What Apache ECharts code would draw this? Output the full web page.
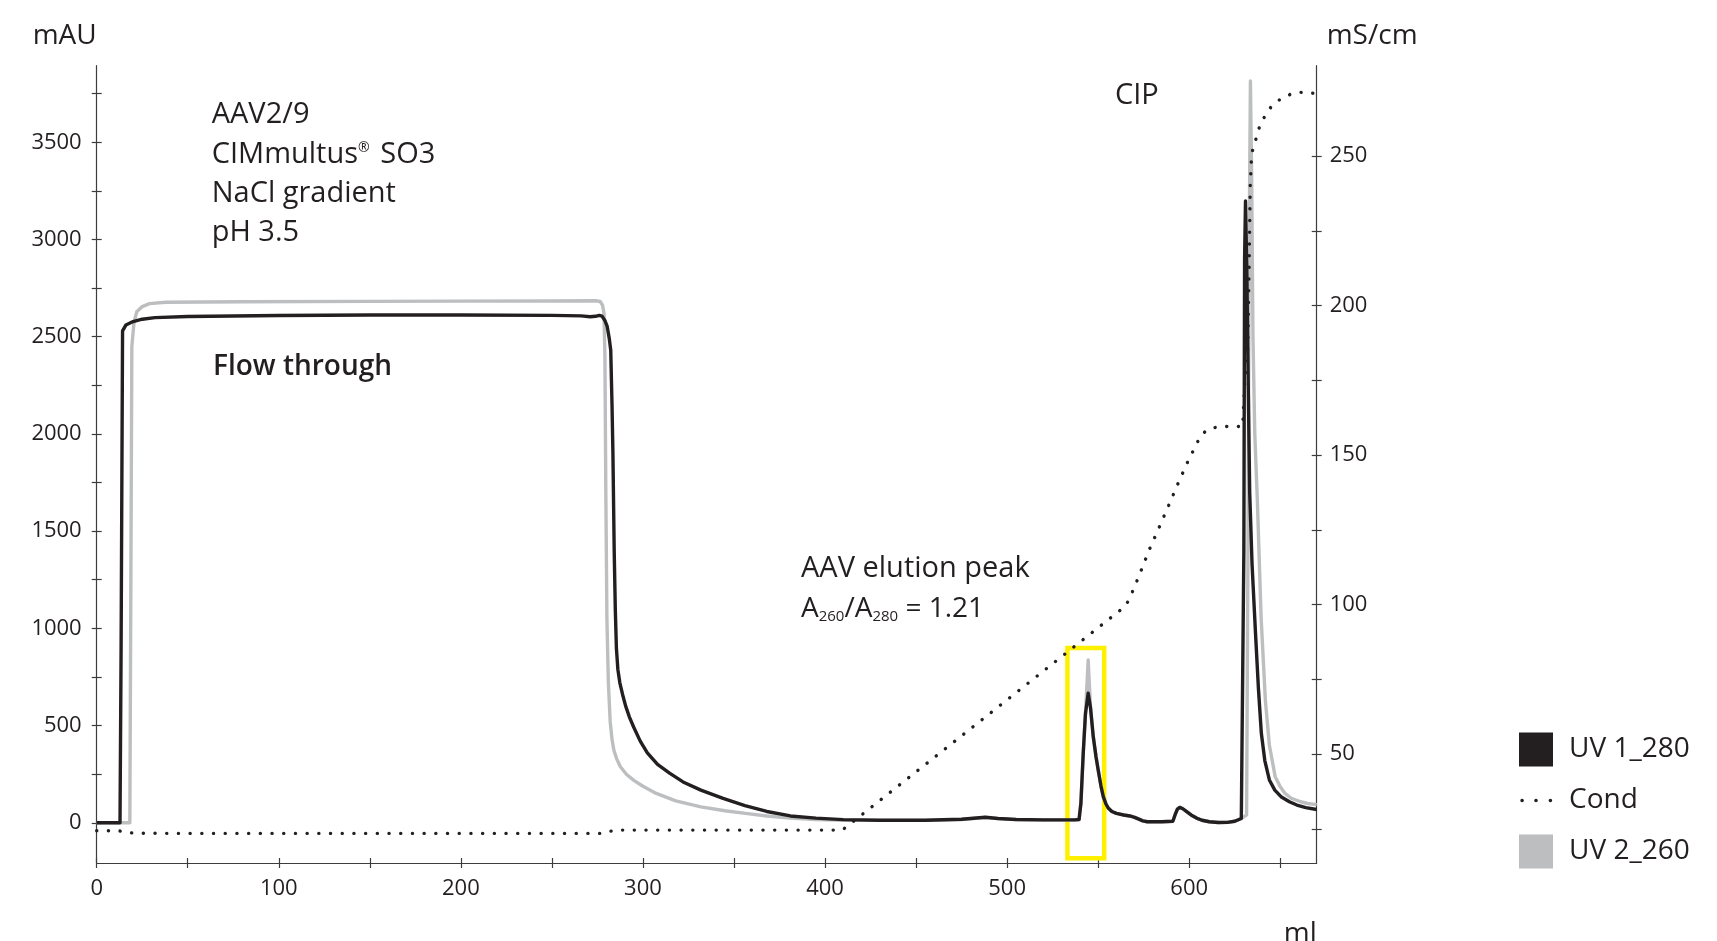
<!DOCTYPE html>
<html>
<head>
<meta charset="utf-8">
<script src="https://cdn.jsdelivr.net/npm/echarts@6/dist/echarts.min.js"></script>
<style>
  html, body { margin: 0; padding: 0; background: #ffffff; }
  #chart { width: 1717px; height: 941px; }
</style>
</head>
<body>
<div id="chart"></div>
<script>
// ---------- data (ml, value) ----------
const uv280 = [[0,0],[12.8,0],[13.4,900],[14.2,2530],[16,2560],[20,2578],[25,2590],[32,2598],[50,2604],[100,2609],[150,2612],[200,2612],[250,2610],[266,2607],[271,2603],[274,2605],[276,2610],[277.5,2606],[279,2585],[280.3,2555],[281.5,2490],[282.3,2430],[283,2150],[283.5,1900],[284.2,1400],[284.8,1100],[285.4,900],[286.2,790],[287.3,720],[288.8,660],[290.5,600],[292.5,545],[295,490],[298.5,420],[302.4,360],[308,300],[314.6,255],[322,210],[331.8,168],[344,125],[356,88],[368,58],[381,35],[395,24],[410,16],[430,13],[455,13],[475,18],[488,28],[495,22],[505,17],[520,15],[537,15],[539.5,17],[540.5,100],[541.8,360],[543,560],[544.5,666],[545.8,590],[547.3,442],[548.8,340],[550,271],[551.5,190],[552.8,134],[554.2,98],[555.5,76],[557.5,58],[560,48],[564,40],[567.4,35],[570,28],[572,20],[574.5,10],[577,5],[585,5],[591,8],[592.2,40],[593.5,70],[594.8,79],[596.5,72],[598.6,57],[601,40],[604,24],[607,13],[611,5],[616,1],[621,2],[625,8],[628.6,22],[629.6,30],[630.0,1400],[630.4,2900],[630.9,3198],[631.6,2850],[632.4,2250],[633.2,1700],[634.5,1330],[636.4,974],[638,690],[639.6,460],[641.5,320],[644,220],[647,168],[650.4,134],[655,108],[659.1,91],[664,78],[670,68]];

const uv260 = [[0,0],[18.2,0],[18.7,1100],[19.3,2450],[20.5,2575],[22,2628],[25,2655],[29,2670],[38,2677],[80,2680],[150,2682],[200,2683],[250,2684],[274,2685],[276.5,2681],[277.8,2662],[278.6,2620],[279.1,2400],[279.6,1700],[280.2,1050],[281,720],[282,520],[283,430],[284,374],[285.5,330],[287.6,288],[291,248],[295,218],[300,188],[307.3,151],[318,113],[331.8,82],[345,62],[356.3,48],[368,35],[380.8,24],[395,16],[412,12],[430,12],[455,12],[475,17],[488,27],[495,21],[505,16],[520,14],[537,14],[539.5,16],[540.5,100],[541.8,360],[543,560],[544.1,760],[544.5,837],[544.9,760],[545.8,590],[547.3,442],[548.8,340],[550,271],[551.5,190],[552.8,134],[554.2,98],[555.5,76],[557.5,58],[560,48],[564,40],[567.4,35],[570,28],[572,20],[574.5,10],[577,5],[585,5],[591,8],[592.2,40],[593.5,70],[594.8,79],[596.5,72],[598.6,57],[601,40],[604,24],[607,13],[611,5],[616,1],[621,2],[625,8],[628.6,22],[630,30],[631.5,40],[632.3,1500],[633,3100],[633.6,3815],[634.3,3300],[635,2500],[636,2000],[637.4,1660],[639.5,1050],[641.8,631],[644,400],[647.2,237],[650,185],[652.6,151],[656,126],[661.2,108],[665,99],[670,93]];

const cond = [[0,24.4],[12,24.4],[15,24.0],[20,23.6],[40,23.5],[150,23.5],[278,23.5],[282,24.2],[285,24.6],[350,24.6],[409,24.6],[411,25.3],[565,99.5],[567.8,102.8],[573,110.5],[578,118.3],[583.4,125.7],[588.8,133.3],[594.2,141],[599.8,148.6],[602.9,152.3],[605.7,155.8],[608.9,158],[612,159],[615.4,159.3],[623,159.7],[629.3,159.5],[630,168],[630.6,176],[632,181],[632.8,210],[633.5,240],[634.2,250],[635,252.5],[636.8,256],[638.5,259.6],[641.3,263.1],[645,266.5],[650,269],[655.8,270.7],[661.2,271.3],[666,271.2],[670,270.8]];

// highlighted elution peak window: [ml from, ml to, mAU low, mAU high]
const peakBox = [533.1, 553.3, -183, 899];

// ---------- axes ----------
const xTicks = [0,50,100,150,200,250,300,350,400,450,500,550,600,650];
const xLabels = [0,100,200,300,400,500,600];
const leftTicks = [0,250,500,750,1000,1250,1500,1750,2000,2250,2500,2750,3000,3250,3500,3750];
const leftLabels = [0,500,1000,1500,2000,2500,3000,3500];
const rightTicks = [25,50,75,100,125,150,175,200,225,250];
const rightLabels = [50,100,150,200,250];
const xRange = [0, 670];
const leftRange = [-207, 3894];
const rightRange = [13.6, 280.2];

const FONT = '"Open Sans", "Noto Sans", sans-serif';
const TXT = '#231F20';
const AX = '#3d3d3d';
const BLACK = '#231F20';
const GREY = '#BCBEC0';

const condIcon = 'path://M0,0 M34,34 M1.3,17 a1.8,1.8 0 1,0 3.6,0 a1.8,1.8 0 1,0 -3.6,0 M15.2,17 a1.8,1.8 0 1,0 3.6,0 a1.8,1.8 0 1,0 -3.6,0 M29.6,17 a1.8,1.8 0 1,0 3.6,0 a1.8,1.8 0 1,0 -3.6,0 Z';

const plain = function (v) { return String(v); };

function tickAxisBase(inside, values) {
  return {
    show: true, inside: inside, length: 5, customValues: values,
    lineStyle: { color: AX, width: 1.2 }
  };
}

const chart = echarts.init(document.getElementById('chart'), null, { renderer: 'canvas' });

const option = {
  animation: false,
  backgroundColor: '#ffffff',
  grid: { left: 96.7, right: 400.3, top: 65.7, bottom: 78, outerBoundsMode: 'none', containLabel: false },
  xAxis: [
    {
      type: 'value', min: xRange[0], max: xRange[1], position: 'bottom',
      name: 'ml', nameLocation: 'end', nameGap: 0,
      nameTextStyle: { fontFamily: FONT, fontSize: 28, color: TXT, align: 'right', verticalAlign: 'top', padding: [57, 0, 0, 0] },
      axisLine: { show: true, onZero: false, lineStyle: { color: AX, width: 1.2 } },
      axisTick: tickAxisBase(false, xTicks),
      axisLabel: { show: true, customValues: xLabels, formatter: plain, margin: 15, fontFamily: FONT, fontSize: 22, color: TXT },
      splitLine: { show: false }
    },
    {
      type: 'value', min: xRange[0], max: xRange[1], position: 'bottom',
      axisLine: { show: false, onZero: false },
      axisTick: tickAxisBase(true, xTicks),
      axisLabel: { show: false },
      splitLine: { show: false }
    }
  ],
  yAxis: [
    {
      type: 'value', min: leftRange[0], max: leftRange[1], position: 'left',
      name: 'mAU', nameLocation: 'end', nameGap: 16,
      nameTextStyle: { fontFamily: FONT, fontSize: 28, color: TXT, align: 'right' },
      axisLine: { show: true, onZero: false, lineStyle: { color: AX, width: 1.2 } },
      axisTick: tickAxisBase(false, leftTicks),
      axisLabel: { show: true, customValues: leftLabels, formatter: plain, margin: 15, fontFamily: FONT, fontSize: 22, color: TXT },
      splitLine: { show: false }
    },
    {
      type: 'value', min: rightRange[0], max: rightRange[1], position: 'right',
      name: 'mS/cm', nameLocation: 'end', nameGap: 16,
      nameTextStyle: { fontFamily: FONT, fontSize: 28, color: TXT, align: 'left', padding: [0, 0, 0, 10] },
      axisLine: { show: true, onZero: false, lineStyle: { color: AX, width: 1.2 } },
      axisTick: tickAxisBase(false, rightTicks),
      axisLabel: { show: true, customValues: rightLabels, formatter: plain, margin: 13, fontFamily: FONT, fontSize: 22, color: TXT },
      splitLine: { show: false }
    },
    {
      type: 'value', min: leftRange[0], max: leftRange[1], position: 'left',
      axisLine: { show: false, onZero: false },
      axisTick: tickAxisBase(true, leftTicks),
      axisLabel: { show: false },
      splitLine: { show: false }
    },
    {
      type: 'value', min: rightRange[0], max: rightRange[1], position: 'right',
      axisLine: { show: false, onZero: false },
      axisTick: tickAxisBase(true, rightTicks),
      axisLabel: { show: false },
      splitLine: { show: false }
    }
  ],
  legend: {
    orient: 'vertical', left: 1519, top: 732.5, padding: 0,
    itemWidth: 34, itemHeight: 34, itemGap: 17,
    selectedMode: false,
    itemStyle: { borderWidth: 0 },
    textStyle: { fontFamily: FONT, fontSize: 28, color: TXT, padding: [0, 0, 0, 11] },
    data: [
      { name: 'UV 1_280', icon: 'rect' },
      { name: 'Cond', icon: condIcon },
      { name: 'UV 2_260', icon: 'rect' }
    ]
  },
  series: [
    {
      name: 'UV 2_260', type: 'line', xAxisIndex: 0, yAxisIndex: 0, data: uv260,
      showSymbol: false, symbol: 'none', z: 2, color: GREY,
      lineStyle: { color: GREY, width: 3.4, join: 'round' }
    },
    {
      name: 'UV 1_280', type: 'line', xAxisIndex: 0, yAxisIndex: 0, data: uv280,
      showSymbol: false, symbol: 'none', z: 3, color: BLACK,
      lineStyle: { color: BLACK, width: 3.4, join: 'round' }
    },
    {
      name: 'Cond', type: 'line', xAxisIndex: 0, yAxisIndex: 1, data: cond,
      showSymbol: false, symbol: 'none', z: 4, color: BLACK,
      lineStyle: { color: BLACK, width: 3.4, type: [0.1, 11.6], cap: 'round' }
    },
    {
      name: 'peak window', type: 'line', xAxisIndex: 0, yAxisIndex: 0, data: [],
      z: 6, silent: true,
      markArea: {
        silent: true,
        itemStyle: { color: 'rgba(0,0,0,0)', borderColor: '#FFF000', borderWidth: 4.5 },
        data: [[{ xAxis: peakBox[0], yAxis: peakBox[3] }, { xAxis: peakBox[1], yAxis: peakBox[2] }]]
      }
    }
  ],
  graphic: [
    { type: 'text', x: 211.7, y: 115, style: { text: 'AAV2/9', font: '29px ' + FONT, fill: TXT, verticalAlign: 'middle' } },
    { type: 'text', x: 211.7, y: 154.5, style: {
        text: 'CIMmultus{r|®} SO3', font: '29px ' + FONT, fill: TXT, verticalAlign: 'middle', lineHeight: 30,
        rich: { r: { fontSize: 14, fontFamily: FONT, lineHeight: 14, verticalAlign: 'top', fill: TXT, padding: [2, 3, 0, 0] } } } },
    { type: 'text', x: 211.7, y: 193.7, style: { text: 'NaCl gradient', font: '29px ' + FONT, fill: TXT, verticalAlign: 'middle' } },
    { type: 'text', x: 211.7, y: 233, style: { text: 'pH 3.5', font: '29px ' + FONT, fill: TXT, verticalAlign: 'middle' } },
    { type: 'text', x: 213, y: 367, style: { text: 'Flow through', font: '600 28px ' + FONT, fill: TXT, verticalAlign: 'middle' } },
    { type: 'text', x: 1115, y: 96, style: { text: 'CIP', font: '29px ' + FONT, fill: TXT, verticalAlign: 'middle' } },
    { type: 'text', x: 801, y: 569, style: { text: 'AAV elution peak', font: '29px ' + FONT, fill: TXT, verticalAlign: 'middle' } },
    { type: 'text', x: 801, y: 609, style: {
        text: 'A{s|260}/A{s|280} = 1.21', font: '28px ' + FONT, fill: TXT, verticalAlign: 'middle', lineHeight: 30,
        rich: { s: { fontSize: 15, fontFamily: FONT, lineHeight: 15, verticalAlign: 'bottom', fill: TXT } } } }
  ]
};

chart.setOption(option);
</script>
</body>
</html>
